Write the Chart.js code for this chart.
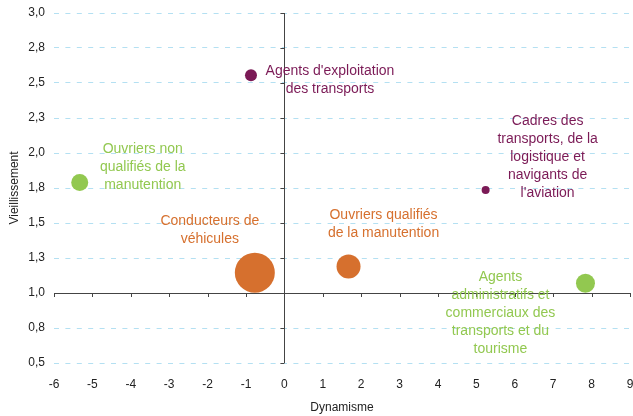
<!DOCTYPE html>
<html>
<head>
<meta charset="utf-8">
<script src="https://cdn.jsdelivr.net/npm/chart.js@4"></script>
<style>
  html, body { margin: 0; background: #fff; overflow: hidden; }
  #wrap { width: 633px; height: 416px; }
</style>
</head>
<body>
<div id="wrap"><canvas id="c"></canvas></div>
<script>
// métiers du transport : dynamisme (x), vieillissement (y), taille de la bulle
const names = [
  ["Agents d'exploitation", "des transports"],
  ["Ouvriers non", "qualifiés de la", "manutention"],
  ["Cadres des", "transports, de la", "logistique et", "navigants de", "l'aviation"],
  ["Conducteurs de", "véhicules"],
  ["Ouvriers qualifiés", "de la manutention"],
  ["Agents", "administratifs et", "commerciaux des", "transports et du", "tourisme"]
];
const dynamisme     = [-0.87, -5.33, 5.24, -0.77, 1.67, 7.84];
const vieillissement = [2.555, 1.79, 1.735, 1.145, 1.19, 1.07];
const taille        = [6, 8.5, 4, 20, 12, 9.5];
const groupe        = ["violet", "vert", "violet", "orange", "orange", "vert"];

const xTicks = [-6, 9];
const yTicks = [0.5, 3.0];

const COLORS = { violet: "#7b1a56", vert: "#92c850", orange: "#d6702e" };
// position du centre de la 1re ligne d'étiquette, relative au point (px)
const LABEL_OFF = [[79, -4], [63, -33], [62, -69], [-45, -52], [35, -51], [-85, -6]];

const bubbles = dynamisme.map((x, i) => ({ x, y: vieillissement[i], r: taille[i] }));

const deco = {
  id: "deco",
  afterDatasetsDraw(chart) {
    const { ctx, scales: { x, y }, chartArea: a } = chart;
    const x0 = x.getPixelForValue(0), y1 = y.getPixelForValue(1);
    ctx.save();
    ctx.strokeStyle = "#444";
    ctx.lineWidth = 1;
    ctx.beginPath();
    ctx.moveTo(a.left, Math.round(y1) + 0.5); ctx.lineTo(a.right, Math.round(y1) + 0.5);
    ctx.moveTo(Math.round(x0) + 0.5, a.top); ctx.lineTo(Math.round(x0) + 0.5, a.bottom);
    for (let v = xTicks[0]; v <= xTicks[1]; v++) {
      const px = Math.round(x.getPixelForValue(v)) + 0.5;
      ctx.moveTo(px, y1); ctx.lineTo(px, y1 + 4);
    }
    for (let v = yTicks[0]; v <= yTicks[1] + 1e-9; v += 0.25) {
      const py = Math.round(y.getPixelForValue(v)) + 0.5;
      ctx.moveTo(x0 - 4, py); ctx.lineTo(x0, py);
    }
    ctx.stroke();

    ctx.font = "14px 'Liberation Sans', Arial, sans-serif";
    ctx.textAlign = "center";
    ctx.textBaseline = "middle";
    names.forEach((lines, i) => {
      const cx = x.getPixelForValue(dynamisme[i]) + LABEL_OFF[i][0];
      const cy = y.getPixelForValue(vieillissement[i]) + LABEL_OFF[i][1];
      ctx.fillStyle = COLORS[groupe[i]];
      lines.forEach((t, k) => ctx.fillText(t, cx, cy + k * 18));
    });
    ctx.restore();
  }
};

new Chart(document.getElementById("c"), {
  type: "bubble",
  data: {
    datasets: [{
      data: bubbles,
      backgroundColor: groupe.map(g => COLORS[g]),
      borderWidth: 0,
      hoverRadius: 0
    }]
  },
  options: {
    responsive: true,
    maintainAspectRatio: false,
    animation: false,
    layout: { autoPadding: false, padding: { top: 13, right: 3 } },
    plugins: { legend: { display: false }, tooltip: { enabled: false } },
    scales: {
      x: {
        type: "linear", min: xTicks[0], max: xTicks[1],
        grid: { display: false },
        border: { display: false },
        ticks: { stepSize: 1, color: "#222", font: { family: "'Liberation Sans', Arial", size: 12 }, padding: 6 },
        title: { display: true, text: "Dynamisme", color: "#222", font: { family: "'Liberation Sans', Arial", size: 12 }, padding: { top: 4, bottom: 1 } },
        afterFit(s) { s.height = 53; s.paddingLeft = 0; s.paddingRight = 0; }
      },
      y: {
        type: "linear", min: yTicks[0], max: yTicks[1],
        grid: { color: "#b4e0f2", lineWidth: 1, drawTicks: false },
        border: { display: false, dash: [5, 6.4] },
        ticks: {
          stepSize: 0.25, color: "#222", padding: 9,
          font: { family: "'Liberation Sans', Arial", size: 12 },
          callback: v => v.toFixed(1).replace(".", ",")
        },
        title: { display: true, text: "Vieillissement", color: "#222", font: { family: "'Liberation Sans', Arial", size: 12 }, padding: { top: 7, bottom: 2 } },
        afterFit(s) { s.width = 54; s.paddingTop = 0; s.paddingBottom = 0; }
      }
    }
  },
  plugins: [deco]
});
</script>
</body>
</html>
